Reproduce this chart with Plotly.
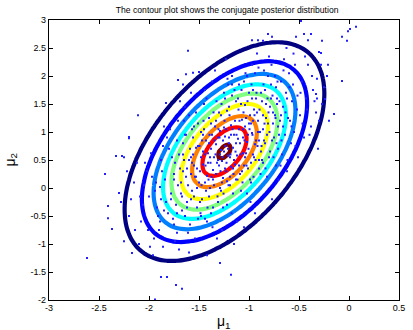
import numpy as np
import plotly.graph_objects as go

# ---- data ----
post_mean = [-1.245, 0.65]         # centre of the contours (mu1, mu2)
post_sd = [0.46, 0.90]             # spread along mu1, mu2
post_rho = 0.53                    # correlation
levels = [0.095, 0.20, 0.305, 0.41, 0.515, 0.64, 0.78, 0.89, 0.99]   # fraction of peak
level_colors = ["#000080", "#0000ff", "#0080ff", "#00ffff", "#80ff80",
                "#ffff00", "#ff8000", "#ff0000", "#800000"]

out_x = [-1.61, -0.97, -0.91, -0.86, -0.81, -0.77, -0.48, -0.45, -0.38, -0.41, -0.53, -0.27,
         -0.07, -0.02, -0.01, 0.01, 0.07, -0.30, -0.28, -0.21, -0.07, -0.24, -0.15, -0.33,
         -0.32, -2.33, -2.27, -2.20, -2.44, -2.30, -2.28, -2.41, -2.41, -2.37, -2.62, -2.17,
         -1.88, -1.82, -1.73, -1.29, -1.18, -1.67, -1.94, -1.71, -1.63, -1.56, -1.50, -1.83,
         -2.11, -2.20, -2.25, -1.66]
out_y = [2.45, 2.64, 2.64, 2.63, 2.75, 2.70, 2.98, 2.75, 2.75, 2.64, 2.70, 2.63,
         2.70, 2.63, 2.80, 2.84, 2.88, 2.43, 2.41, 2.20, 1.91, 1.59, 1.32, 1.68,
         1.60, 0.57, 0.57, 0.91, 0.25, -0.09, -0.25, -0.32, -0.54, -0.73, -1.25, -1.16,
         -1.59, -1.59, -1.73, -1.34, -1.55, -1.80, -1.99, 1.93, 2.03, 2.06, 2.07, 1.52,
         1.30, 0.89, 0.55, 1.85]

in_x = [-2.08, -2.02, -1.95, -2.05, -1.92, -1.98, -2.10, -1.93, -2.00, -1.90, -2.12, -1.96,
        -1.88, -1.85, -1.82, -1.78, -1.75, -1.72, -1.86, -1.80, -1.76, -1.71, -1.89, -1.74,
        -1.83, -1.79, -1.70, -1.87, -1.73,
        -1.68, -1.66, -1.64, -1.62, -1.60, -1.58, -1.56, -1.54, -1.69, -1.67, -1.63, -1.61,
        -1.59, -1.57, -1.55, -1.53, -1.52, -1.65, -1.51, -1.58, -1.60,
        -1.49, -1.48, -1.47, -1.46, -1.45, -1.44, -1.43, -1.42, -1.41, -1.40, -1.39, -1.38,
        -1.37, -1.36, -1.35, -1.34, -1.33, -1.32, -1.31, -1.30, -1.48, -1.44, -1.36, -1.42,
        -1.34,
        -1.29, -1.28, -1.27, -1.26, -1.25, -1.24, -1.23, -1.22, -1.21, -1.20, -1.19, -1.18,
        -1.17, -1.16, -1.15, -1.14, -1.13, -1.12, -1.11, -1.10, -1.27, -1.23, -1.19, -1.15,
        -1.21,
        -1.09, -1.08, -1.07, -1.06, -1.05, -1.04, -1.03, -1.02, -1.01, -1.00, -0.99, -0.98,
        -0.97, -0.96, -0.95, -0.94, -0.93, -0.92, -0.91, -0.90, -1.05, -0.97,
        -0.89, -0.88, -0.87, -0.86, -0.85, -0.84, -0.83, -0.82, -0.81, -0.80, -0.79, -0.78,
        -0.77, -0.76, -0.75, -0.74, -0.73, -0.72, -0.71,
        -0.69, -0.68, -0.67, -0.66, -0.65, -0.64, -0.63, -0.62, -0.61, -0.60, -0.58, -0.57,
        -0.55, -0.54, -0.52, -0.51,
        -0.49, -0.47, -0.45, -0.43, -0.41, -0.38, -0.36, -0.33, -0.31,
        -2.20, -2.15, -2.25, -0.25, -0.20, -0.28]
in_y = [-0.60, 0.30, -0.90, 0.05, -0.35, 0.62, -1.00, 0.10, -0.15, -0.75, 0.45, -1.20,
        0.50, -0.40, 0.90, -0.10, 0.25, -0.80, -1.05, 0.70, -0.55, 1.20, 0.02, 0.45,
        -0.25, 1.05, -1.10, 0.30, -0.30,
        0.10, 0.80, -0.50, 0.35, 1.30, -0.20, 0.60, -0.90, 1.55, -0.15, 0.95, 0.05,
        -0.65, 0.45, 1.10, 0.20, -0.35, 0.50, 0.75, 1.70, -1.15,
        0.30, 1.00, -0.20, 0.65, 1.50, 0.10, 0.85, -0.60, 0.45, 1.25, 0.00, 0.70,
        1.90, -0.35, 0.55, 1.10, 0.25, -0.90, 0.90, 0.40, 0.55, 1.75, 0.15, -1.20,
        2.10,
        0.60, 1.30, 0.10, 0.85, 1.70, 0.35, 1.05, -0.30, 0.70, 1.45, 0.20, 0.95,
        2.00, -0.10, 0.50, 1.20, 0.80, -0.60, 1.60, 0.40, -0.75, 2.30, 0.55, -1.00,
        1.85,
        0.80, 1.50, 0.30, 1.05, 1.90, 0.55, 1.25, -0.10, 0.95, 1.70, 0.15, 1.15,
        2.20, 0.60, 1.40, -0.45, 0.85, 2.40, 1.00, 0.35, -0.70, 1.60,
        1.00, 1.70, 0.50, 1.30, 2.10, 0.80, 1.50, 0.20, 1.15, 2.35, 0.65, 1.85,
        -0.20, 1.35, 0.90, 2.00, 0.40, 1.60, 1.10,
        1.20, 1.90, 0.60, 1.45, 2.30, 0.95, 1.70, 0.30, 1.25, 2.05, 0.80, 1.55,
        1.00, 2.20, 1.40, 0.55,
        1.30, 1.90, 0.90, 1.60, 2.20, 1.10, 1.75, 1.35, 0.70,
        -0.50, 0.10, -0.95, 1.80, 1.20, 2.20]

more_x = [-2.06, -2.01, -1.97, -1.94, -2.04, -1.91, -1.99, -2.09,
          -1.89, -1.86, -1.84, -1.81, -1.77, -1.74, -1.71, -1.85, -1.78, -1.72, -1.88, -1.75,
          -1.69, -1.67, -1.65, -1.63, -1.61, -1.59, -1.57, -1.55, -1.53, -1.51, -1.66, -1.62,
          -1.56, -1.52, -1.64, -1.58,
          -1.495, -1.475, -1.455, -1.435, -1.415, -1.395, -1.375, -1.355, -1.335, -1.315,
          -1.305, -1.485, -1.445, -1.425, -1.405, -1.385, -1.365, -1.345, -1.325, -1.31,
          -1.295, -1.285, -1.275, -1.265, -1.255, -1.245, -1.235, -1.225, -1.215, -1.205,
          -1.195, -1.185, -1.175, -1.165, -1.155, -1.145, -1.135, -1.125, -1.115, -1.105,
          -1.29, -1.25, -1.20, -1.16,
          -1.095, -1.085, -1.075, -1.065, -1.055, -1.045, -1.035, -1.025, -1.015, -1.005,
          -0.995, -0.985, -0.975, -0.965, -0.955, -0.945, -0.935, -0.925, -0.915, -0.905,
          -1.04, -0.96,
          -0.895, -0.875, -0.855, -0.835, -0.815, -0.795, -0.775, -0.755, -0.735, -0.715,
          -0.705, -0.885, -0.845, -0.805, -0.765, -0.725,
          -0.695, -0.675, -0.655, -0.635, -0.615, -0.595, -0.575, -0.555, -0.535, -0.515,
          -0.685, -0.625,
          -0.485, -0.465, -0.44, -0.42, -0.395, -0.37, -0.345, -0.32, -0.30,
          -2.18, -2.14, -2.22, -0.27, -0.22]
more_y = [-0.30, -0.75, 0.20, -0.05, 0.45, -0.50, -1.05, -0.15,
          -0.60, 0.75, 0.15, -0.45, 0.55, -0.95, 0.05, 1.10, -0.20, 0.85, -0.20, -0.65,
          0.35, -0.40, 1.20, 0.20, -0.80, 0.70, -0.05, 0.40, 1.35, -0.55, 0.60, -0.25,
          0.90, 0.00, 1.45, 0.25,
          0.75, 0.05, 1.20, 0.40, -0.35, 0.95, 0.20, 1.35, 0.60, -0.15,
          1.05, -0.45, 0.60, 1.60, 0.15, 0.45, -0.70, 0.85, 1.55, 0.50,
          0.90, 0.30, 1.50, 0.55, -0.10, 1.20, 0.75, 0.45, 1.95, 0.05,
          1.30, 0.60, -0.45, 1.05, 0.25, 1.75, 0.65, 0.95, 0.15, 1.40,
          0.00, 0.65, 0.90, 0.35,
          1.20, 0.60, 1.75, 0.10, 1.35, 0.85, 2.05, 0.40, 1.55, 0.70,
          1.05, -0.25, 1.85, 0.95, 0.20, 1.30, 0.50, 1.70, 0.75, 2.15,
          1.10, 1.20,
          1.40, 0.75, 1.85, 0.35, 1.60, 1.00, 2.20, 0.55, 1.25, 1.90,
          0.15, 0.25, 1.15, 1.35, 1.65, 0.80,
          1.55, 0.85, 2.10, 1.35, 0.50, 1.80, 1.10, 2.40, 0.75, 1.65,
          0.40, 2.50,
          1.70, 1.15, 2.35, 1.40, 0.95, 2.00, 1.55, 1.95, 1.20,
          -0.20, -0.75, 0.30, 1.50, 2.00]

core_x = [-1.52, -1.47, -1.43, -1.41, -1.38, -1.36, -1.33, -1.31, -1.29, -1.27, -1.26, -1.24,
          -1.22, -1.21, -1.19, -1.18, -1.16, -1.14, -1.13, -1.11, -1.09, -1.07, -1.06, -1.04,
          -1.02, -1.01, -0.99, -0.97, -0.95, -0.93, -0.91, -0.88, -0.86, -0.84, -0.82, -0.79,
          -0.76, -0.73, -0.70, -0.68,
          -1.58, -1.55, -1.53, -1.50, -1.48, -1.46, -1.45, -1.42, -1.40, -1.39, -1.37, -1.35,
          -1.32, -1.30, -1.28, -1.26, -1.25, -1.23, -1.20, -1.18, -1.17, -1.15, -1.12, -1.10,
          -1.08, -1.06, -1.03, -1.00, -0.98, -0.96, -0.94, -0.92, -0.90, -0.87, -0.85, -0.83,
          -0.80, -0.78, -0.74, -0.71,
          -1.75, -1.72, -1.70, -1.68, -1.66, -1.64, -1.62, -1.60, -1.57, -1.54, -1.51, -1.49,
          -1.46, -1.44, -1.40, -1.38, -1.33, -1.28, -1.24, -1.22, -1.17, -1.13, -1.10, -1.05,
          -1.02, -0.98, -0.94, -0.90, -0.86, -0.81, -0.77, -0.72, -0.66, -0.62, -0.59, -0.56]
core_y = [0.35, 0.85, -0.05, 0.62, 1.15, 0.32, 0.78, -0.25, 1.02, 0.48, 0.18, 0.92,
          1.38, 0.58, 0.05, 1.12, 0.72, 0.42, 1.55, 0.88, 0.25, 1.22, 0.62, 1.48,
          0.82, 0.35, 1.30, 0.98, 0.55, 1.60, 1.20, 0.65, 1.05, 1.75, 0.95, 1.45,
          1.15, 1.80, 0.95, 1.30,
          0.55, -0.15, 0.72, 0.10, -0.50, 0.42, 1.05, 0.22, -0.15, 0.55, 0.95, 0.05,
          0.45, 1.35, 0.68, -0.35, 1.08, 0.30, 0.80, 0.38, 1.65, 0.95, 0.58, 1.05,
          -0.05, 0.90, 0.62, 1.15, 0.45, 1.75, 0.78, 1.35, 0.50, 1.55, 0.85, 1.25,
          0.55, 1.60, 1.30, 0.70,
          0.15, -0.45, 0.60, -0.10, 0.30, 0.95, -0.35, 0.50, 1.05, 0.20, 1.15, -0.25,
          0.95, -0.55, 0.80, -0.45, 1.20, -0.05, 1.60, 0.12, 1.85, 0.15, 1.85, 0.40,
          2.00, 0.10, 2.05, 0.85, 0.45, 2.00, 0.85, 1.50, 1.10, 1.60, 1.20, 1.85]

x_ticks = [-3, -2.5, -2, -1.5, -1, -0.5, 0, 0.5]
x_tick_text = ["-3", "-2.5", "-2", "-1.5", "-1", "-0.5", "0", "0.5"]
y_ticks = [-2, -1.5, -1, -0.5, 0, 0.5, 1, 1.5, 2, 2.5, 3]
y_tick_text = ["-2", "-1.5", "-1", "-0.5", "0", "0.5", "1", "1.5", "2", "2.5", "3"]

# ---- density surface for the contour ----
gx = np.arange(-3.0, 0.5001, 0.05)
gy = np.arange(-2.0, 3.0001, 0.05)
GX, GY = np.meshgrid(gx, gy)
u = (GX - post_mean[0]) / post_sd[0]
v = (GY - post_mean[1]) / post_sd[1]
Z = np.exp(-0.5 * (u * u - 2 * post_rho * u * v + v * v) / (1 - post_rho ** 2))

fig = go.Figure()
for lev, col in zip(levels, level_colors):
    fig.add_trace(go.Contour(
        x=gx, y=gy, z=Z,
        contours=dict(start=lev, end=lev, size=1, coloring="lines"),
        colorscale=[[0, col], [1, col]],
        line=dict(width=4.2),
        showscale=False, hoverinfo="skip",
    ))

fig.add_trace(go.Scatter(
    x=in_x + more_x + core_x + out_x, y=in_y + more_y + core_y + out_y, mode="markers",
    marker=dict(color="#2020ff", size=2, symbol="square", line=dict(width=0)),
    hoverinfo="skip",
))

font_family = "Liberation Sans, Arial, sans-serif"
axis_common = dict(
    showgrid=False, zeroline=False, showline=True, linecolor="black", linewidth=1.2,
    mirror="ticks", ticks="inside", ticklen=4, tickcolor="black",
    tickfont=dict(family=font_family, size=9, color="black"),
)
fig.update_layout(
    width=413, height=330,
    margin=dict(l=49, r=8, t=20, b=30),
    paper_bgcolor="white", plot_bgcolor="white",
    showlegend=False,
    title=dict(text="The contour plot shows the conjugate posterior distribution",
               x=0.55, xanchor="center", y=0.979, yanchor="top",
               font=dict(family=font_family, size=8.6, color="black")),
    xaxis=dict(range=[-3, 0.5], tickvals=x_ticks, ticktext=x_tick_text,
               ticklabelstandoff=-1, **axis_common),
    yaxis=dict(range=[-2, 3], tickvals=y_ticks, ticktext=y_tick_text,
               **axis_common),
    annotations=[
        dict(text="μ<sub>1</sub>", xref="paper", yref="paper", x=0.5, y=-0.038,
             xanchor="center", yanchor="top", showarrow=False,
             font=dict(family=font_family, size=14, color="black")),
        dict(text="μ<sub>2</sub>", xref="paper", yref="paper", x=-0.11, y=0.5,
             xanchor="center", yanchor="middle", textangle=-90, showarrow=False,
             font=dict(family=font_family, size=14, color="black")),
    ],
)

fig.write_html("out.html", config={"displayModeBar": False},
               post_script="document.body.style.margin='0';document.body.style.overflow='hidden';")
